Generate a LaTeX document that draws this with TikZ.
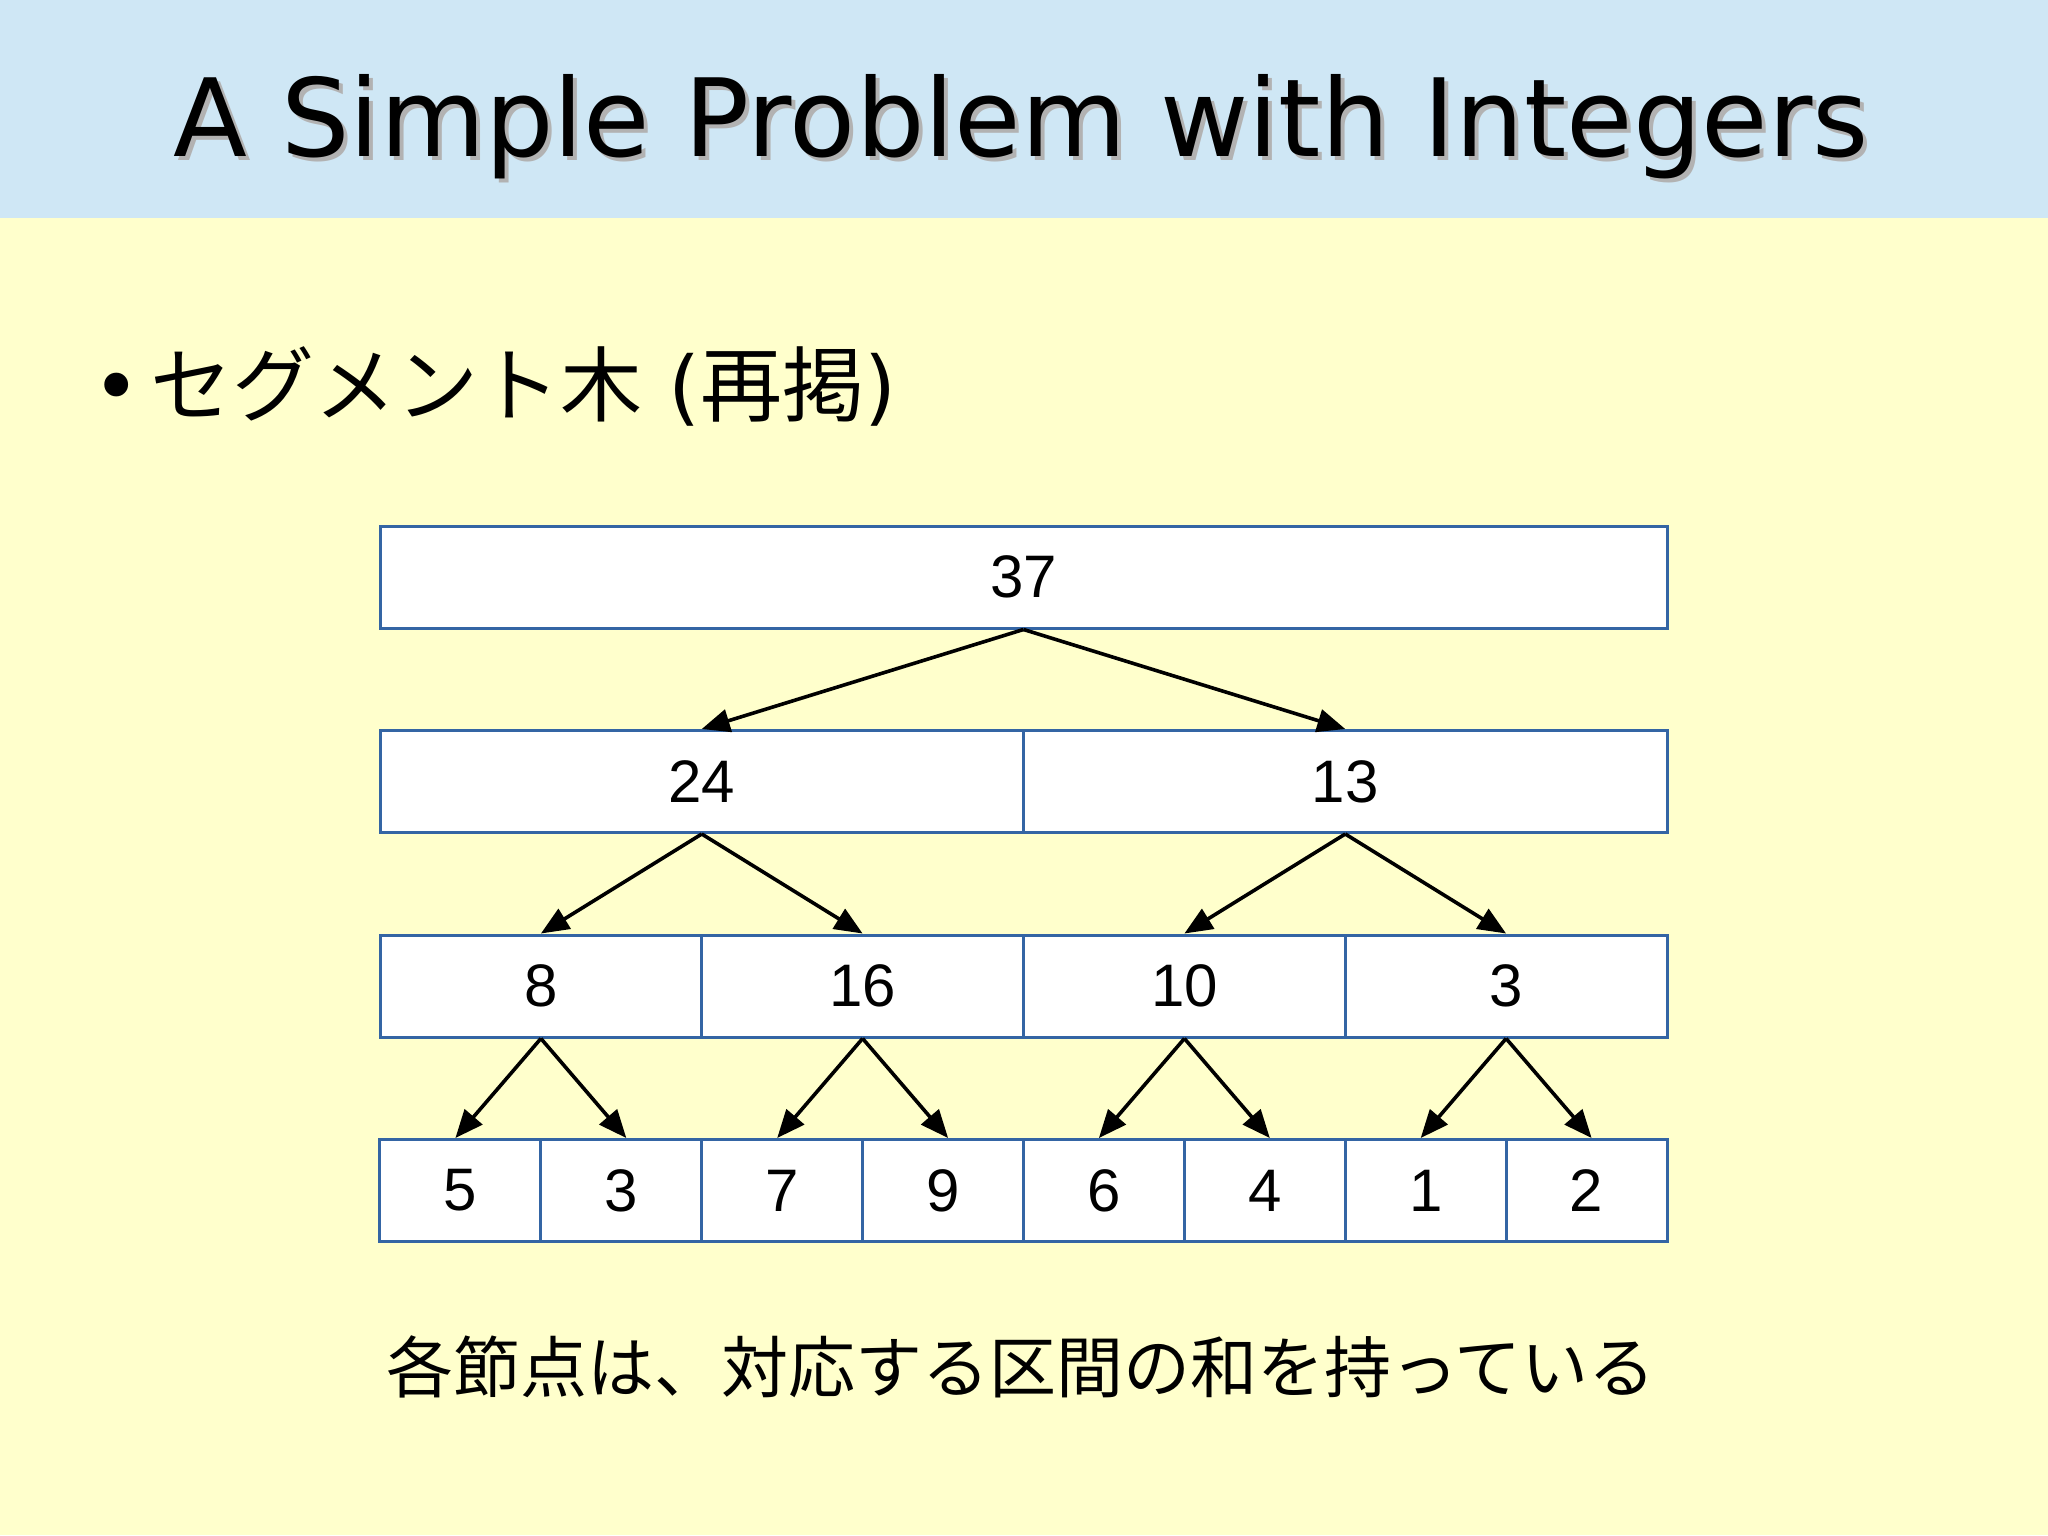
\documentclass[tikz,border=0pt]{standalone}
\usepackage{fontspec}
\usetikzlibrary{arrows.meta}
\newfontfamily\titlefont{DejaVu Sans}
\newfontfamily\numfont{Liberation Sans}
\newfontfamily\jpfont{Noto Sans CJK JP}
\definecolor{boxblue}{HTML}{3465A4}
\definecolor{titleblue}{HTML}{CFE7F5}
\definecolor{bgyellow}{HTML}{FFFFCC}
\tikzset{
  cell/.style={draw=boxblue, line width=1.5pt, fill=white, inner sep=0pt,
    minimum height=51pt, minimum width=#1, font=\numfont\fontsize{30}{36}\selectfont},
  link/.style={line width=1.8pt, -{Triangle[length=14pt,width=11.5pt]}}
}
\begin{document}
\begin{tikzpicture}[x=0.5pt, y=-0.5pt]

    % Fondo
    \useasboundingbox (0, 0) rectangle (2048, 1535);
    \fill[bgyellow] (0, 0) rectangle (2048, 1535);
    \fill[titleblue] (0, 0) rectangle (2048, 218);

    % Titulo
    \node[anchor=base, text=black!30, font=\titlefont\fontsize{54}{60}\selectfont] (titleshadow) at (1025, 161) {A Simple Problem with Integers};
    \node[anchor=base, font=\titlefont\fontsize{54}{60}\selectfont] (title) at (1021, 157) {A Simple Problem with Integers};

    % Punto
    \node[anchor=base, font=\titlefont\fontsize{41}{48}\selectfont] (dot) at (117, 415) {•};
    \node[anchor=base west, inner sep=0pt, font=\jpfont\fontsize{41}{48}\selectfont] (head) at (150, 415) {セグメント木{\titlefont{} (}再掲{\titlefont)}};

    % Nodos
    \node[cell=643.5pt] (r) at (1023.5, 577) {37};

    \node[cell=321.75pt] (a1) at (701.75, 781.5) {24};
    \node[cell=321.75pt] (a2) at (1345.25, 781.5) {13};

    \node[cell=160.875pt] (b1) at (540.9, 986) {8};
    \node[cell=160.875pt] (b2) at (862.6, 986) {16};
    \node[cell=160.875pt] (b3) at (1184.4, 986) {10};
    \node[cell=160.875pt] (b4) at (1506.1, 986) {3};

    \node[cell=80.44pt] (c1) at (460.4, 1190.5) {5};
    \node[cell=80.44pt] (c2) at (621.3, 1190.5) {3};
    \node[cell=80.44pt] (c3) at (782.2, 1190.5) {7};
    \node[cell=80.44pt] (c4) at (943.1, 1190.5) {9};
    \node[cell=80.44pt] (c5) at (1103.9, 1190.5) {6};
    \node[cell=80.44pt] (c6) at (1264.8, 1190.5) {4};
    \node[cell=80.44pt] (c7) at (1425.7, 1190.5) {1};
    \node[cell=80.44pt] (c8) at (1586.6, 1190.5) {2};

    % Flechas
    \draw[link] (r.south) -- (a1.north);
    \draw[link] (r.south) -- (a2.north);
    \draw[link] (a1.south) -- (b1.north);
    \draw[link] (a1.south) -- (b2.north);
    \draw[link] (a2.south) -- (b3.north);
    \draw[link] (a2.south) -- (b4.north);
    \draw[link] (b1.south) -- ([xshift=-2.5pt]c1.north);
    \draw[link] (b1.south) -- ([xshift=2.5pt]c2.north);
    \draw[link] (b2.south) -- ([xshift=-2.5pt]c3.north);
    \draw[link] (b2.south) -- ([xshift=2.5pt]c4.north);
    \draw[link] (b3.south) -- ([xshift=-2.5pt]c5.north);
    \draw[link] (b3.south) -- ([xshift=2.5pt]c6.north);
    \draw[link] (b4.south) -- ([xshift=-2.5pt]c7.north);
    \draw[link] (b4.south) -- ([xshift=2.5pt]c8.north);

    % Texto
    \node[anchor=base, font=\jpfont\fontsize{33.5}{40}\selectfont] (note) at (1021, 1392) {各節点は、対応する区間の和を持っている};

  \end{tikzpicture}
\end{document}
